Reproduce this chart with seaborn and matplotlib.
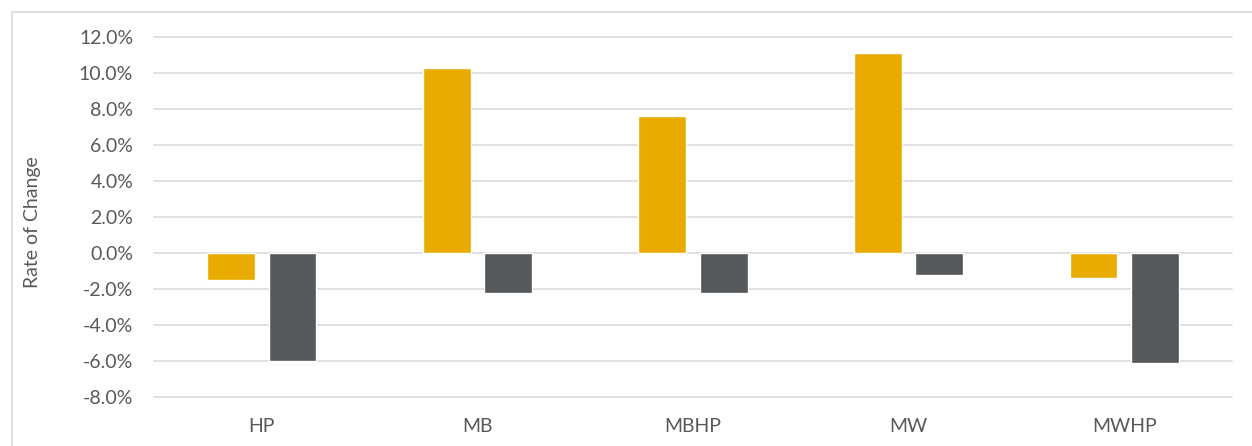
import matplotlib
matplotlib.use("Agg")
import matplotlib.pyplot as plt
from matplotlib.patches import Rectangle
from matplotlib.ticker import FuncFormatter
import seaborn as sns
import pandas as pd

# Rate of change (%) per program, two series
categories = ["HP", "MB", "MBHP", "MW", "MWHP"]
series_names = ["Series 1", "Series 2"]
series_1 = [-1.5, 10.3, 7.6, 11.1, -1.4]
series_2 = [-6.0, -2.2, -2.2, -1.2, -6.1]
y_ticks = [-8, -6, -4, -2, 0, 2, 4, 6, 8, 10, 12]

colors = ["#E9AB00", "#55595C"]
text_color = "#595959"
grid_color = "#DEDEDE"

df = pd.DataFrame({
    "category": categories * 2,
    "series": [series_names[0]] * len(categories) + [series_names[1]] * len(categories),
    "value": series_1 + series_2,
})

sns.set_theme(style="white")
plt.rcParams["font.family"] = ["Lato", "DejaVu Sans"]

fig = plt.figure(figsize=(12.52, 4.46), dpi=100)
ax = fig.add_axes([154 / 1252, 1 - 397 / 446, (1232 - 154) / 1252, 360 / 446])

sns.barplot(data=df, x="category", y="value", hue="series", order=categories,
            hue_order=series_names, palette=colors, width=0.57, gap=0.22,
            saturation=1, legend=False, ax=ax, zorder=3)

ax.set_ylim(y_ticks[0], y_ticks[-1])
ax.set_yticks(y_ticks)
ax.yaxis.set_major_formatter(FuncFormatter(lambda v, _: f"{v:.1f}%"))
ax.yaxis.grid(True, color=grid_color, linewidth=1.3, zorder=0)
ax.set_axisbelow(True)
for gl in ax.get_ygridlines():
    gl.set_clip_on(False)
for s in ax.spines.values():
    s.set_visible(False)

ax.tick_params(axis="y", length=0, pad=15, labelsize=14, labelcolor=text_color)
ax.tick_params(axis="x", length=0, pad=15, labelsize=14, labelcolor=text_color)
ax.set_xlabel("")
ax.set_ylabel("Rate of Change", fontsize=14, color=text_color)
ax.yaxis.set_label_coords(-0.105, 0.485)

# outer chart frame
fig.patches.append(Rectangle((12 / 1252, -0.05), 1.1, 1 - 12 / 446 + 0.05,
                             transform=fig.transFigure, fill=False,
                             edgecolor="#D9D9D9", linewidth=1.2))

fig.savefig("out.png", dpi=100, facecolor="white")
